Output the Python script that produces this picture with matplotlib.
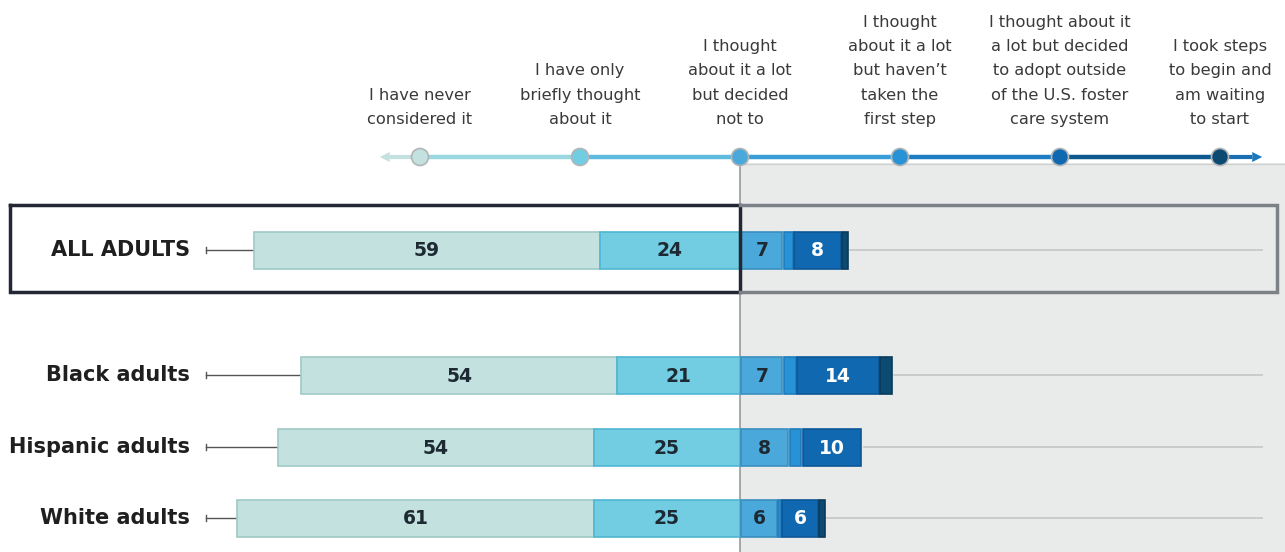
import matplotlib
matplotlib.use("Agg")
import matplotlib.pyplot as plt
from matplotlib.patches import Rectangle
from matplotlib.colors import to_rgb
import numpy as np

# data (percent)
groups = ["ALL ADULTS", "Black adults", "Hispanic adults", "White adults"]
never = [59, 54, 54, 61]
briefly = [24, 21, 25, 25]
decided_not = [7, 7, 8, 6]
no_first_step = [1.5, 2, 2, 0.5]
outside_foster = [8, 14, 10, 6]
took_steps = [1, 2, 0, 1]

headers = [
    "I have never\nconsidered it",
    "I have only\nbriefly thought\nabout it",
    "I thought\nabout it a lot\nbut decided\nnot to",
    "I thought\nabout it a lot\nbut haven\u2019t\ntaken the\nfirst step",
    "I thought about it\na lot but decided\nto adopt outside\nof the U.S. foster\ncare system",
    "I took steps\nto begin and\nam waiting\nto start",
]
colors = ["#c3e1df", "#72cde3", "#4aa9da", "#2792d6", "#1068b0", "#0d4a72"]
edges = ["#9fc9c6", "#4fb6d2", "#3a8fbf", "#1f7cbd", "#0c5796", "#0a3a5a"]
text_cols = ["#1d2a33", "#1d2a33", "#1d2a33", "#1d2a33", "white", "white"]

# layout (pixels)
W, H = 1285, 552
CX = 740
S = 5.85
row_y = [250, 375, 447, 518]
bar_h = 37


def v(px):
    return (px - CX) / S


def mix(a, b):
    return tuple((np.array(to_rgb(a)) + np.array(to_rgb(b))) / 2)


fig = plt.figure(figsize=(W / 100, H / 100), dpi=100)
ax = fig.add_axes([0, 0, 1, 1])
ax.set_xlim(v(0), v(W))
ax.set_ylim(H, 0)
ax.axis("off")

# shaded positive side
ax.add_patch(Rectangle((0, 163), v(W) + 1, H, facecolor="#e9eaea",
                       edgecolor="none", zorder=0))
ax.plot([0, 0], [163, H], color="#9a9a9a", lw=1.2, zorder=1)
ax.plot([0, v(W)], [163.5, 163.5], color="#d0d2d2", lw=1, zorder=1)

# box around all adults
ax.plot([v(10), 0, 0, v(10), v(10)], [205, 205, 292, 292, 205],
        color="#222733", lw=2.5, zorder=5, solid_joinstyle="miter")
ax.plot([0, v(1277), v(1277), 0], [205, 205, 292, 292],
        color="#7c8087", lw=2.5, zorder=5, solid_joinstyle="miter")

# scale line on top
dot_x = [v(420 + 160 * i) for i in range(6)]
axis_y = 157
ax.plot([v(392), dot_x[0]], [axis_y, axis_y], color=colors[0], lw=3, zorder=2)
for i in range(5):
    ax.plot([dot_x[i], dot_x[i + 1]], [axis_y, axis_y],
            color=mix(colors[i], colors[i + 1]), lw=3.2, zorder=2)
ax.plot([dot_x[5], v(1250)], [axis_y, axis_y], color="#1a6fb3", lw=3, zorder=2)
ax.annotate("", xy=(v(377), axis_y), xytext=(v(395), axis_y),
            arrowprops=dict(arrowstyle="-|>", color=colors[0], lw=0,
                            mutation_scale=18), zorder=3)
ax.annotate("", xy=(v(1265), axis_y), xytext=(v(1245), axis_y),
            arrowprops=dict(arrowstyle="-|>", color="#1a78bd", lw=0,
                            mutation_scale=18), zorder=3)
ax.scatter(dot_x, [axis_y] * 6, s=150, c=colors, edgecolors="#b0b5b8",
           linewidths=1.2, zorder=4)
for x, t in zip(dot_x, headers):
    ax.text(x, 127, t, ha="center", va="bottom", fontsize=11.7,
            color="#3a3a3a", linespacing=1.78, family="DejaVu Sans")

# bars
for i, g in enumerate(groups):
    y = row_y[i]
    neg = [never[i], briefly[i]]
    pos = [decided_not[i], no_first_step[i], outside_foster[i], took_steps[i]]
    left = -(neg[0] + neg[1])
    segs = [(left, neg[0], 0), (left + neg[0], neg[1], 1)]
    start = 0.25
    for j, val in enumerate(pos):
        segs.append((start, val, j + 2))
        start += val + 0.25
    end = start
    for x0, w, k in segs:
        if w <= 0:
            continue
        ax.barh(y, w, left=x0, height=bar_h, color=colors[k],
                edgecolor=edges[k], linewidth=1.2, zorder=3)
        if w >= 5:
            ax.text(x0 + w / 2, y + 1, f"{w:g}", ha="center", va="center",
                    fontsize=13.5, fontweight="bold", color=text_cols[k], zorder=4)
    # leader lines
    ax.plot([v(206), left], [y, y], color="#555555", lw=1, zorder=2)
    ax.plot([v(206), v(206)], [y - 3, y + 3], color="#555555", lw=1, zorder=2)
    ax.plot([end, v(1262)], [y, y], color="#c4c6c6", lw=1.2, zorder=2)
    ax.text(v(190), y, g, ha="right", va="center", fontsize=15,
            fontweight="bold", color="#1f1f1f")

fig.savefig("out.png", dpi=100)
